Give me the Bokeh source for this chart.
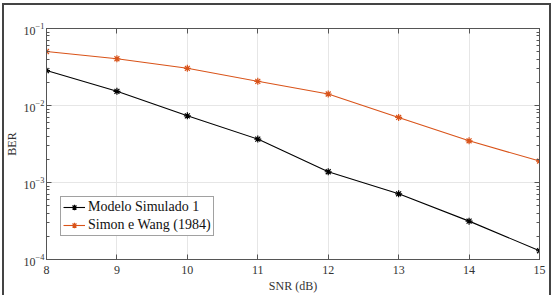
from bokeh.plotting import figure
from bokeh.models import (ColumnDataSource, LogAxis, LinearAxis, Legend, LegendItem,
                          LogTicker, FixedTicker, Range1d, CustomJSTickFormatter)
from bokeh.embed import file_html
from bokeh.resources import INLINE

# BER curves versus SNR
snr_db = [8, 9, 10, 11, 12, 13, 14, 15]
ber_simulado = [0.0284, 0.0153, 0.00734, 0.00366, 0.00138, 0.000713, 0.000315, 0.000130]
ber_simon_wang = [0.0503, 0.0405, 0.0304, 0.0206, 0.0141, 0.0070, 0.00348, 0.0019]

x_ticks = [8, 9, 10, 11, 12, 13, 14, 15]

FONT = "Liberation Serif"
AXIS_COLOR = "#555555"
ORANGE = "#D95319"

p = figure(width=556, height=295, output_backend="svg", toolbar_location=None,
           y_axis_type="log", x_range=Range1d(8, 15), y_range=Range1d(1e-4, 1e-1),
           min_border_left=46, min_border_right=17, min_border_top=28, min_border_bottom=35)
# outer frame around the whole figure, painted behind a transparent border area
edge = "linear-gradient(#444444, #444444)"
p.styles = {
    "background-color": "white",
    "background-image": ", ".join([edge] * 3),
    "background-position": "2px 3px, 2px 3px, 549px 3px",
    "background-size": "549px 2px, 2px 300px, 2px 300px",
    "background-repeat": "no-repeat",
}
p.background_fill_color = "white"
p.border_fill_alpha = 0
p.outline_line_color = AXIS_COLOR
p.outline_line_width = 1


def style_axis(ax, labels=True):
    ax.axis_line_color = AXIS_COLOR
    ax.major_tick_line_color = AXIS_COLOR
    ax.minor_tick_line_color = AXIS_COLOR
    ax.major_tick_in = 5
    ax.major_tick_out = 0
    ax.minor_tick_in = 3
    ax.minor_tick_out = 0
    ax.major_label_text_font = FONT
    ax.major_label_text_font_size = "12px"
    ax.major_label_text_color = "#333333"
    ax.axis_label_text_font = FONT
    ax.axis_label_text_font_size = "12px"
    ax.axis_label_text_font_style = "normal"
    ax.axis_label_text_color = "#333333"
    if not labels:
        ax.formatter = CustomJSTickFormatter(code="return ''")
        ax.major_label_text_font_size = "1px"
        ax.major_label_standoff = 0
        ax.axis_label_standoff = 0


xt = FixedTicker(ticks=x_ticks)
yt = LogTicker(num_minor_ticks=10)

p.xaxis.ticker = xt
p.yaxis.ticker = yt
p.xaxis.axis_label = "SNR (dB)"
p.yaxis.axis_label = "BER"
for ax in p.xaxis + p.yaxis:
    style_axis(ax)
p.xaxis.major_label_standoff = 6
p.xaxis.axis_label_standoff = 2
p.yaxis.major_label_standoff = 2
p.yaxis.axis_label_standoff = 2

top_ax = LinearAxis(ticker=xt)
style_axis(top_ax, labels=False)
p.add_layout(top_ax, "above")
right_ax = LogAxis(ticker=LogTicker(num_minor_ticks=10))
style_axis(right_ax, labels=False)
p.add_layout(right_ax, "right")

p.xgrid.ticker = xt
p.ygrid.ticker = yt
for g in (p.xgrid[0], p.ygrid[0]):
    g.grid_line_color = "#e6e6e6"
    g.grid_line_width = 1

src = ColumnDataSource(dict(snr=snr_db, sim=ber_simulado, ref=ber_simon_wang))

l1 = p.line("snr", "sim", source=src, line_color="black", line_width=1.1)
m1 = p.scatter("snr", "sim", source=src, marker="asterisk", size=7, line_color="black", line_width=1.2)
l2 = p.line("snr", "ref", source=src, line_color=ORANGE, line_width=1.1)
m2 = p.scatter("snr", "ref", source=src, marker="asterisk", size=7, line_color=ORANGE, line_width=1.2)

legend = Legend(items=[LegendItem(label="Modelo Simulado 1", renderers=[l1, m1]),
                       LegendItem(label="Simon e Wang (1984)", renderers=[l2, m2])],
                location=(14, 23))
legend.label_text_font = FONT
legend.label_text_font_size = "14px"
legend.label_text_color = "#111111"
legend.glyph_width = 22
legend.glyph_height = 14
legend.label_height = 14
legend.label_standoff = 3
legend.padding = 2
legend.spacing = 2
legend.margin = 0
legend.border_line_color = "#444444"
legend.border_line_width = 1
legend.background_fill_alpha = 1
p.add_layout(legend, "center")

open("out.html", "w").write(file_html(p, INLINE))
